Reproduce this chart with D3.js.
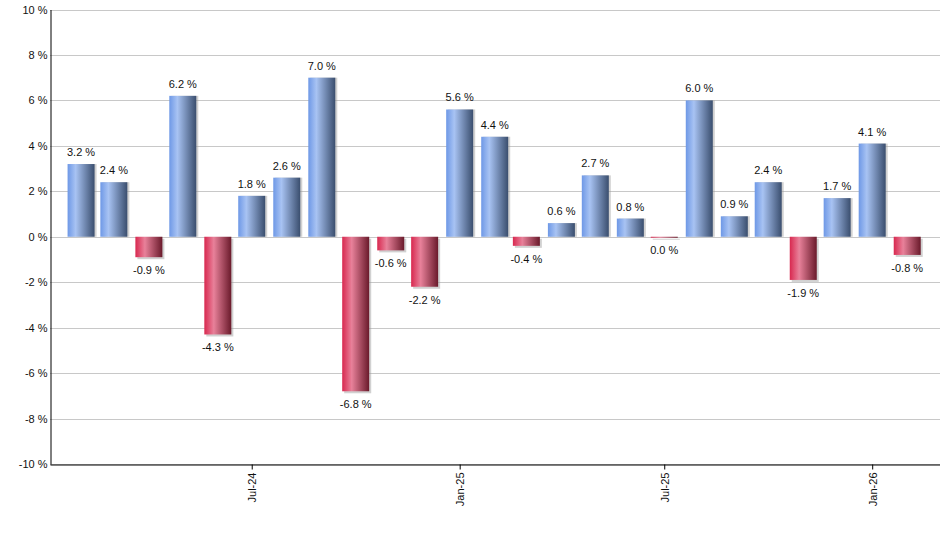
<!DOCTYPE html>
<html>
<head>
<meta charset="utf-8">
<script src="https://cdn.jsdelivr.net/npm/d3@7/dist/d3.min.js"></script>
<style>
  body { margin: 0; background: #fff; }
  svg text { font-family: "Liberation Sans", Arial, sans-serif; fill: #111; }
</style>
</head>
<body>
<div id="chart"></div>
<script>
// monthly returns, one bar per month
var months = ["2024-02","2024-03","2024-04","2024-05","2024-06","2024-07","2024-08","2024-09",
              "2024-10","2024-11","2024-12","2025-01","2025-02","2025-03","2025-04","2025-05",
              "2025-06","2025-07","2025-08","2025-09","2025-10","2025-11","2025-12","2026-01","2026-02"];
var returns = [3.2, 2.4, -0.9, 6.2, -4.3, 1.8, 2.6, 7.0, -6.8, -0.6, -2.2, 5.6, 4.4,
               -0.4, 0.6, 2.7, 0.8, -0.03, 6.0, 0.9, 2.4, -1.9, 1.7, 4.1, -0.8];
var xTickMonths = ["2024-07","2025-01","2025-07","2026-01"];
var yTicks = [-10, -8, -6, -4, -2, 0, 2, 4, 6, 8, 10];

var width = 940, height = 550;
var margin = {top: 10, right: 0, bottom: 86, left: 50};

var parseMonth = d3.utcParse("%Y-%m");
var data = months.map(function(m, i) { return {date: parseMonth(m), value: returns[i]}; });

var svg = d3.select('#chart').append('svg')
  .attr('width', width).attr('height', height);

var defs = svg.append('defs');
function grad(id, stops) {
  var g = defs.append('linearGradient').attr('id', id)
    .attr('x1', '0%').attr('x2', '100%').attr('y1', '0%').attr('y2', '0%');
  stops.forEach(function(s) {
    g.append('stop').attr('offset', s[0]).attr('stop-color', s[1]);
  });
}
grad('gradUp', [['0%', '#6e98e6'], ['30%', '#a8c3f3'], ['100%', '#3a4e6e']]);
grad('gradDown', [['0%', '#d8284f'], ['35%', '#e8819a'], ['100%', '#6a1a2b']]);

var x = d3.scaleUtc()
  .domain([new Date(Date.UTC(2024, 0, 4, 12)), new Date(Date.UTC(2026, 2, 2))])
  .range([margin.left, width - margin.right]);

var y = d3.scaleLinear()
  .domain([-10, 10])
  .range([height - margin.bottom, margin.top - 0.5]);

var barW = 27;

// gridlines
svg.append('g')
  .selectAll('line')
  .data(yTicks)
  .enter()
  .append('line')
  .attr('x1', margin.left)
  .attr('x2', width)
  .attr('y1', function(d) { return Math.round(y(d)) + 0.5; })
  .attr('y2', function(d) { return Math.round(y(d)) + 0.5; })
  .attr('stroke', '#c8c8c8')
  .attr('stroke-width', 1);

// bar shadows
svg.append('g')
  .selectAll('rect')
  .data(data)
  .enter()
  .append('rect')
  .attr('x', function(d) { return x(d.date) - barW / 2 + 2; })
  .attr('y', function(d) { return Math.min(y(d.value), y(0)) + (d.value < 0 ? 2 : 0); })
  .attr('width', barW)
  .attr('height', function(d) { return Math.max(Math.abs(y(d.value) - y(0)), 1); })
  .attr('fill', '#999')
  .attr('opacity', 0.45);

// bars
svg.append('g')
  .selectAll('rect')
  .data(data)
  .enter()
  .append('rect')
  .attr('x', function(d) { return x(d.date) - barW / 2; })
  .attr('y', function(d) { return Math.min(y(d.value), y(0)); })
  .attr('width', barW)
  .attr('height', function(d) { return Math.max(Math.abs(y(d.value) - y(0)), 1); })
  .attr('fill', function(d) { return d.value < 0 ? 'url(#gradDown)' : 'url(#gradUp)'; });

// value labels
function fmt(v) {
  var s = Math.abs(v) < 0.05 ? '0.0' : v.toFixed(1);
  return s + ' %';
}
svg.append('g')
  .selectAll('text')
  .data(data)
  .enter()
  .append('text')
  .attr('x', function(d) { return x(d.date); })
  .attr('y', function(d) { return d.value < 0 ? y(d.value) + 17 : y(d.value) - 8; })
  .attr('text-anchor', 'middle')
  .style('font-size', '11px')
  .text(function(d) { return fmt(d.value); });

// y axis
var yAxis = svg.append('g')
  .attr('transform', 'translate(' + (margin.left + 0.5) + ',0)')
  .call(d3.axisLeft(y).tickValues(yTicks).tickSize(0).tickPadding(3)
    .tickFormat(function(d) { return d + ' %'; }));
yAxis.select('.domain').attr('stroke', '#000');
yAxis.selectAll('text').style('font-size', '11px').attr('fill', '#111');

// x axis
var xAxis = svg.append('g')
  .attr('transform', 'translate(0,' + (Math.round(y(-10)) + 0.5) + ')')
  .call(d3.axisBottom(x).tickValues(xTickMonths.map(parseMonth)).tickSize(5).tickSizeOuter(0)
    .tickFormat(d3.utcFormat('%b-%y')));
xAxis.select('.domain').attr('stroke', '#000');
xAxis.selectAll('line').attr('stroke', '#000');
xAxis.selectAll('text')
  .style('font-size', '11px')
  .attr('fill', '#111')
  .attr('transform', 'rotate(-90)')
  .attr('text-anchor', 'end')
  .attr('dy', '0.35em')
  .attr('x', -8)
  .attr('y', 0);
</script>
</body>
</html>
